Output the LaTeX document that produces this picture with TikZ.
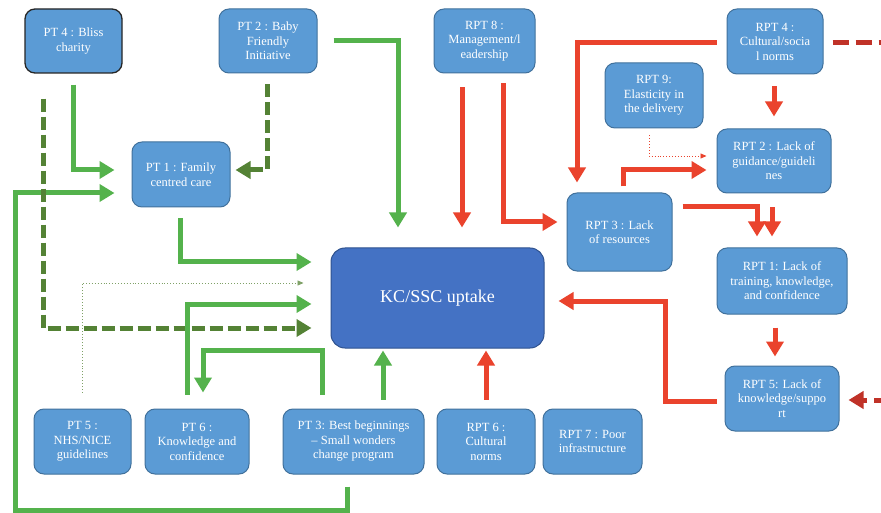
\documentclass[tikz,border=0pt]{standalone}
\usepackage{fontspec}
\setmainfont{Liberation Serif}
\usetikzlibrary{arrows.meta}
\definecolor{boxfill}{RGB}{91,155,213}
\definecolor{boxline}{RGB}{65,113,156}
\definecolor{kcfill}{RGB}{68,114,196}
\definecolor{kcline}{RGB}{47,82,143}
\definecolor{lgreen}{RGB}{84,178,76}
\definecolor{dgreen}{RGB}{84,130,53}
\definecolor{lred}{RGB}{234,67,45}
\definecolor{dred}{RGB}{192,50,40}
\begin{document}
\begin{tikzpicture}[x=1pt,y=-1pt,
  box/.style={draw=boxline, line width=1pt, fill=boxfill, rounded corners=10pt,
    text=white, align=center, font=\fontsize{12.5}{14.5}\selectfont, inner sep=2pt},
  kcbox/.style={box, draw=kcline, fill=kcfill, font=\fontsize{18}{21}\selectfont},
  bigtip/.style={-{Triangle[length=15pt,width=17pt]}},
  garr/.style={draw=lgreen, line width=5pt, bigtip},
  dgarr/.style={draw=dgreen, line width=5pt, dash pattern=on 13pt off 5pt, bigtip},
  rarr/.style={draw=lred, line width=5pt, bigtip},
  drline/.style={draw=dred, line width=5pt, dash pattern=on 16pt off 7pt},
  drarr/.style={drline, bigtip},
  dotg/.style={draw=dgreen!75, line width=0.9pt, dotted, -{Triangle[length=6pt,width=5pt]}},
  dotr/.style={draw=lred, line width=0.9pt, dotted, -{Triangle[length=6pt,width=5pt]}}]
\useasboundingbox[fill=white] (0,0) rectangle (881,513);

% boxes
\node[box, minimum width=97pt, minimum height=64pt, draw=black!85, line width=1.3pt] (pt4) at (73.5,41) {PT 4 : Bliss\\charity};
\node[box, minimum width=98pt, minimum height=64pt] (pt2) at (268,41) {PT 2 : Baby\\Friendly\\Initiative};
\node[box, minimum width=101pt, minimum height=64pt] (rpt8) at (484.5,41) {RPT 8 :\\Management/l\\eadership};
\node[box, minimum width=96pt, minimum height=65pt] (rpt4) at (775,41.5) {RPT 4 :\\Cultural/socia\\l norms};
\node[box, minimum width=98pt, minimum height=65pt] (rpt9) at (654,95.5) {RPT 9:\\Elasticity in\\the delivery};
\node[box, minimum width=114pt, minimum height=64pt] (rpt2) at (774,161) {RPT 2 : Lack of\\guidance/guideli\\nes};
\node[box, minimum width=98pt, minimum height=65pt] (pt1) at (181,174.5) {PT 1 : Family\\centred care};
\node[box, minimum width=105pt, minimum height=78pt] (rpt3) at (619.5,232) {RPT 3 : Lack\\of resources};
\node[box, minimum width=130pt, minimum height=66pt] (rpt1) at (782,281) {RPT 1: Lack of\\training, knowledge,\\and confidence};
\node[kcbox, minimum width=213pt, minimum height=100pt, rounded corners=14pt] (kc) at (437.5,298) {KC/SSC uptake};
\node[box, minimum width=114pt, minimum height=65pt] (rpt5) at (782,398.5) {RPT 5: Lack of\\knowledge/suppo\\rt};
\node[box, minimum width=97pt, minimum height=65pt] (pt5) at (82.5,441.5) {PT 5 :\\NHS/NICE\\guidelines};
\node[box, minimum width=104pt, minimum height=65pt] (pt6) at (197,441.5) {PT 6 :\\Knowledge and\\confidence};
\node[box, minimum width=141pt, minimum height=65pt] (pt3) at (353.5,441.5) {PT 3: Best beginnings\\– Small wonders\\change program};
\node[box, minimum width=98pt, minimum height=65pt] (rpt6) at (486,441.5) {RPT 6 :\\Cultural\\norms};
\node[box, minimum width=99pt, minimum height=65pt] (rpt7) at (592.5,441.5) {RPT 7 : Poor\\infrastructure};

\coordinate (offA) at (890,43);
\coordinate (offB) at (890,400);

% green connectors
\draw[garr] ([yshift=-11pt]pt4.south) |- ([xshift=-17pt,yshift=4.5pt]pt1.west);
\draw[dgarr] ([xshift=-1pt,yshift=-11pt]pt2.south) |- ([xshift=5pt,yshift=4.5pt]pt1.east);
\draw[garr] ([xshift=16pt]pt2.east) -| ([xshift=-39.5pt,yshift=20pt]kc.north);
\draw[garr] ([xshift=-1pt,yshift=-11pt]pt1.south) |- ([xshift=-19pt,yshift=36pt]kc.west);
\draw[garr] ([xshift=-6.5pt,yshift=-12pt]pt3.south) -- ++(0,24) -- ++(-332,0) |- ([xshift=-17pt,yshift=-18.5pt]pt1.west);
\draw[dotg] ([yshift=16pt]pt5.north) |- ([xshift=-27pt,yshift=15pt]kc.west);
\draw[dgarr] ([xshift=-30.5pt,yshift=-25pt]pt4.south) |- ([xshift=-19pt,yshift=-30pt]kc.west);
\draw[garr] ([xshift=-10pt,yshift=14pt]pt6.north) |- ([xshift=-19pt,yshift=-6pt]kc.west);
\draw[garr] ([xshift=-31.5pt,yshift=14pt]pt3.north) -- ++(0,-44) -| ([xshift=6pt,yshift=16pt]pt6.north);
\draw[garr] ([xshift=29.5pt,yshift=9pt]pt3.north) -- ([xshift=-54.5pt,yshift=-2pt]kc.south);

% red connectors
\draw[rarr] ([xshift=-22.5pt,yshift=-14pt]rpt8.south) -- ([xshift=24.5pt,yshift=20pt]kc.north);
\draw[rarr] ([xshift=18.5pt,yshift=-10pt]rpt8.south) |- ([xshift=-9pt,yshift=10pt]rpt3.west);
\draw[rarr] ([xshift=-10pt,yshift=-1.5pt]rpt4.west) -| ([xshift=-42.5pt,yshift=10pt]rpt3.north);
\draw[drline] ([xshift=9pt,yshift=-1.5pt]rpt4.east) -- (offA);
\draw[rarr] ([xshift=-1pt,yshift=-12pt]rpt4.south) -- ([yshift=12pt]rpt2.north);
\draw[dotr] ([xshift=-5pt,yshift=-7pt]rpt9.south) |- ([xshift=-10pt,yshift=5pt]rpt2.west);
\draw[rarr] ([xshift=3.5pt,yshift=6pt]rpt3.north) |- ([xshift=-10pt,yshift=-9pt]rpt2.west);
\draw[rarr] ([xshift=10pt,yshift=25pt]rpt3.east) -| ([xshift=-25pt,yshift=11pt]rpt1.north);
\draw[rarr] ([xshift=-2pt,yshift=-14pt]rpt2.south) -- ([xshift=-10pt,yshift=11pt]rpt1.north);
\draw[rarr] ([xshift=-7pt,yshift=-13pt]rpt1.south) -- ([xshift=-7pt,yshift=9pt]rpt5.north);
\draw[rarr] ([xshift=-8pt,yshift=-2.5pt]rpt5.west) -- ++(-51,0) |- ([xshift=14pt,yshift=-3pt]kc.east);
\draw[drarr] (offB) -- ([xshift=9pt,yshift=-1.5pt]rpt5.east);
\draw[rarr] ([yshift=9pt]rpt6.north) -- ([xshift=48.5pt,yshift=-2pt]kc.south);
\end{tikzpicture}
\end{document}
